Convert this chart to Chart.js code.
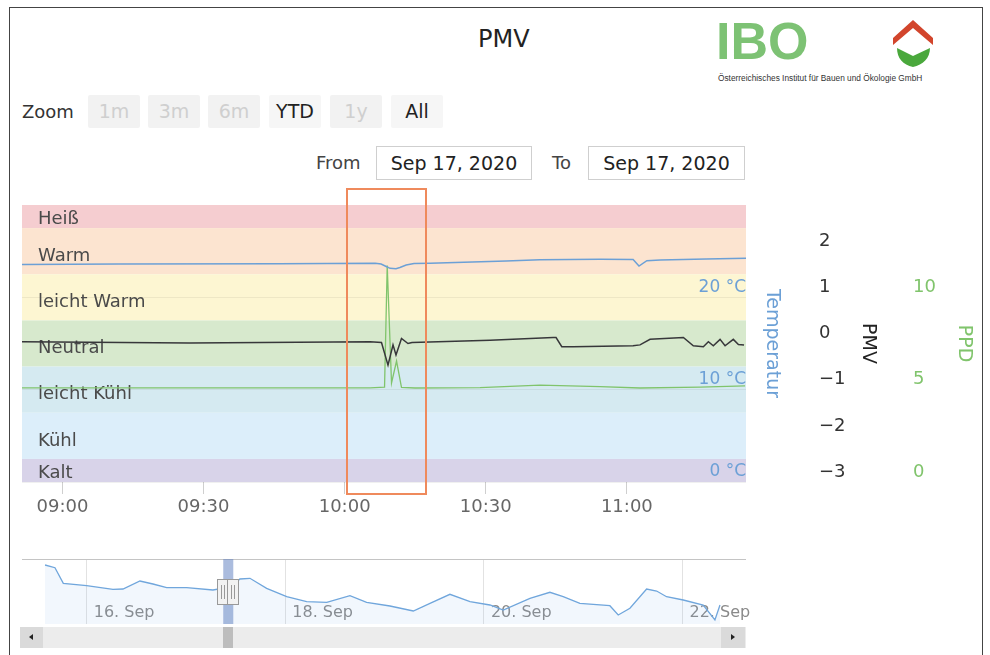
<!DOCTYPE html>
<html>
<head>
<meta charset="utf-8">
<script src="https://cdn.jsdelivr.net/npm/chart.js@4/dist/chart.umd.min.js"></script>
<style>
html,body{margin:0;padding:0;background:#fff;}
body{font-family:"DejaVu Sans",sans-serif;color:#333;}
#page{position:relative;width:990px;height:655px;overflow:hidden;}
#frame{position:absolute;left:9px;top:7px;width:972px;height:700px;border:1px solid #444;}
.abs{position:absolute;white-space:nowrap;}
.btn{position:absolute;top:95px;width:52px;height:33px;line-height:33px;text-align:center;background:#f2f2f2;font-size:19px;color:#cfcfcf;border-radius:2px;}
.btn.on{color:#222;background:#f6f6f6;}
.inp{position:absolute;top:146px;height:32px;line-height:32px;border:1px solid #cfcfcf;text-align:center;font-size:19px;color:#222;}
canvas{position:absolute;left:0;}
#mark{position:absolute;left:346px;top:188px;width:81px;height:307px;border:2px solid #ef8a5c;box-sizing:border-box;z-index:5;}
.sb{position:absolute;top:627px;height:21px;}
</style>
</head>
<body>
<div id="page">
  <div id="frame"></div>
  <div class="abs" style="left:478px;top:24px;font-size:24px;line-height:30px;color:#222">PMV</div>

  <div class="abs" style="left:716px;top:15px;font:bold 52px 'Liberation Sans',sans-serif;line-height:52px;color:#7dc274">IBO</div>
  <div class="abs" style="left:718px;top:73px;font:8.3px 'Liberation Sans',sans-serif;color:#333">Österreichisches Institut für Bauen und Ökologie GmbH</div>
  <svg class="abs" style="left:890px;top:18px" width="50" height="54">
    <path d="M23 2 L43 20 L43 27 L23 10 L3 27 L3 20 Z" fill="#d2452c"/>
    <path d="M7 30 L23 38 L40 30 C40 40 33 47 23 49 C13 47 7 40 7 30 Z" fill="#4aa83c"/>
  </svg>

  <div class="abs" style="left:22px;top:95px;line-height:33px;font-size:18px;color:#333">Zoom</div>
  <div class="btn" style="left:88px">1m</div>
  <div class="btn" style="left:148px">3m</div>
  <div class="btn" style="left:208px">6m</div>
  <div class="btn on" style="left:269px">YTD</div>
  <div class="btn" style="left:330px">1y</div>
  <div class="btn on" style="left:391px">All</div>

  <div class="abs" style="left:316px;top:146px;line-height:34px;font-size:18px;color:#444">From</div>
  <div class="inp" style="left:376px;width:154px">Sep 17, 2020</div>
  <div class="abs" style="left:552px;top:146px;line-height:34px;font-size:18px;color:#444">To</div>
  <div class="inp" style="left:588px;width:155px">Sep 17, 2020</div>

  <canvas id="main" width="990" height="340" style="top:190px"></canvas>
  <div id="mark"></div>

  <canvas id="nav" width="990" height="85" style="top:545px"></canvas>
  <div class="sb" style="left:20px;width:726px;background:#ececec"></div>
  <div class="sb" id="thumb" style="left:222px;width:11px;background:#bdbdbd"></div>
  <div class="sb" style="left:20px;width:23px;background:#dadada"><div style="position:absolute;left:9px;top:7px;border-style:solid;border-width:3.5px 4px 3.5px 0;border-color:transparent #222 transparent transparent"></div></div>
  <div class="sb" style="left:721px;width:24px;background:#dadada"><div style="position:absolute;left:10px;top:7px;border-style:solid;border-width:3.5px 0 3.5px 4px;border-color:transparent transparent transparent #222"></div></div>
</div>

<script>
// Messdaten 17.09.2020 (Uhrzeit hh:mm:ss)
var tempTimes=['08:51:24','09:12:00','09:46:00','10:06:30','10:07:45','10:08:50','10:09:40','10:10:55','10:11:45','10:13:05','10:14:45','10:18:10','10:34:20','10:41:30','10:54:20','11:01:20','11:02:35','11:04:15','11:07:05','11:16:50','11:25:20']
var tempValues=[23.56,23.61,23.64,23.69,23.61,23.34,23.14,23.10,23.23,23.50,23.66,23.70,23.94,24.07,24.12,24.10,23.39,23.97,24.04,24.15,24.23]

var pmvTimes=['08:51:24','09:27:00','10:05:24','10:07:50','10:09:13','10:10:17','10:10:55','10:12:05','10:13:28','10:14:20','10:30:55','10:44:19','10:44:57','10:46:10','10:48:34','11:01:19','11:02:48','11:04:56','11:12:01','11:14:08','11:16:16','11:17:20','11:18:23','11:19:49','11:20:53','11:22:38','11:23:43','11:24:55']
var pmvValues=[0.04,0.01,0.04,0.02,-0.47,-0.03,-0.25,0.11,0.00,0.02,0.07,0.13,0.13,-0.07,-0.07,-0.05,-0.03,0.09,0.13,-0.05,-0.07,0.04,-0.05,0.09,-0.05,0.09,-0.02,-0.03]

var ppdTimes=['08:51:24','10:05:24','10:08:29','10:09:03','10:09:58','10:11:02','10:12:05','10:14:58','10:28:47','10:41:32','10:54:18','11:02:48','11:15:34','11:25:08']
var ppdValues=[5.1,5.1,5.14,11.72,5.36,6.55,5.12,5.09,5.11,5.25,5.17,5.09,5.14,5.2]

var xRange=['08:51:24','11:25:20']
var xTicks=['09:00','09:30','10:00','10:30','11:00']
var tempTicks=[0,10,20]
var pmvTicks=[-3,-2,-1,0,1,2]
var ppdTicks=[0,5,10]

// Behaglichkeitsbereiche (PMV)
var bandNames=['Heiß','Warm','leicht Warm','Neutral','leicht Kühl','Kühl','Kalt']
var bandEdges=[3,2.5,1.5,0.5,-0.5,-1.5,-2.5,-3]
var bandColors=['rgb(245,205,208)','rgb(252,228,208)','rgb(253,246,210)','rgb(215,233,205)','rgb(213,234,241)','rgb(220,238,250)','rgb(216,211,233)']

// Navigator: Tage ab 15. Sep 00:00, Temperatur
var navDays=[0.58,0.68,0.764,0.999,1.264,1.365,1.536,1.667,1.805,2.007,2.271,2.45,2.543,2.644,2.812,3.014,3.215,3.417,3.651,3.819,4.054,4.289,4.457,4.658,4.86,5.061,5.195,5.464,5.665,5.799,5.967,6.269,6.353,6.471,6.639,6.74,6.84,7.008,7.209,7.327,7.378]
var navTemps=[26.1,25.83,24.27,24.03,23.67,23.7,24.5,24.2,23.83,23.83,23.6,23.9,24.7,24.77,23.77,22.93,22.43,22.37,23.03,22.37,22.0,21.5,22.27,23.17,22.43,22.1,21.6,22.77,23.37,22.93,22.27,22.03,21.1,21.77,23.7,23.5,22.93,22.6,22.1,20.6,22.1]
var navRange=[0.348,7.64]
var navTicks=[1,3,5,7]
var navTickLabels=['16. Sep','18. Sep','20. Sep','22. Sep']
var selDays=[2.375,2.476]   // 17.09. 09:00 - 11:25

Chart.defaults.font.family="'DejaVu Sans', sans-serif"

function toMin(s){ var p=s.split(':').map(Number); return p[0]*60+p[1]+(p[2]||0)/60 }
function fmt(v){ var h=Math.floor(v/60), m=Math.round(v-h*60); return (h<10?'0':'')+h+':'+(m<10?'0':'')+m }
function pts(times,vals){ return times.map(function(t,i){ return {x:toMin(t),y:vals[i]} }) }
function fixTicks(arr){ return function(s){ s.ticks=arr.map(function(v){ return {value:v} }) } }

const bandPlugin={
  id:'bands',
  beforeDraw(chart){
    const {ctx,chartArea:a}=chart, y=chart.scales.yPmv
    ctx.save()
    for(var i=0;i<bandNames.length;i++){
      var y1=y.getPixelForValue(bandEdges[i]), y2=y.getPixelForValue(bandEdges[i+1])
      ctx.fillStyle=bandColors[i]
      ctx.fillRect(a.left,y1,a.right-a.left,y2-y1)
    }
    ctx.restore()
  },
  beforeDatasetsDraw(chart){
    const {ctx,chartArea:a}=chart, y=chart.scales.yPmv
    ctx.save()
    ctx.font="18px 'DejaVu Sans'"
    ctx.fillStyle='#4a4a4a'
    ctx.textBaseline='middle'
    for(var i=0;i<bandNames.length;i++){
      var y1=y.getPixelForValue(bandEdges[i]), y2=y.getPixelForValue(bandEdges[i+1])
      var off=(i==0||i==bandNames.length-1)?3:5
      ctx.fillText(bandNames[i],a.left+16,(y1+y2)/2+off)
    }
    ctx.restore()
  }
}

var blue='rgb(108,160,214)', green='rgb(128,196,108)'

var main=new Chart(document.getElementById('main'),{
  type:'line',
  data:{datasets:[
    {label:'Temperatur',data:pts(tempTimes,tempValues),yAxisID:'yTemp',borderColor:blue,borderWidth:1.5},
    {label:'PMV',data:pts(pmvTimes,pmvValues),yAxisID:'yPmv',borderColor:'rgb(55,55,58)',borderWidth:1.5},
    {label:'PPD',data:pts(ppdTimes,ppdValues),yAxisID:'yPpd',borderColor:green,borderWidth:1.3}
  ]},
  options:{
    responsive:false,animation:false,devicePixelRatio:1,
    elements:{point:{radius:0},line:{tension:0}},
    layout:{padding:{left:22,right:15,top:15,bottom:8}},
    plugins:{legend:{display:false},tooltip:{enabled:false}},
    scales:{
      x:{type:'linear',min:toMin(xRange[0]),max:toMin(xRange[1]),
        afterBuildTicks:fixTicks(xTicks.map(toMin)),
        afterFit:function(s){ s.height=40 },
        ticks:{callback:fmt,color:'#666',font:{size:18},padding:3,maxRotation:0,autoSkip:false},
        grid:{drawOnChartArea:false,tickLength:12,color:'#cfcfcf'},
        border:{display:false}},
      yTemp:{position:'right',min:0,max:30,
        afterBuildTicks:fixTicks(tempTicks),
        afterFit:function(s){ s.width=37 },
        ticks:{mirror:true,padding:0,labelOffset:-10,color:blue,font:{size:17},callback:function(v){ return v+' °C' }},
        grid:{color:'rgba(0,0,0,0.06)',drawTicks:false},
        border:{display:false},
        title:{display:true,text:'Temperatur',color:blue,font:{size:19},padding:0}},
      yPmv:{position:'right',min:-3,max:3,
        afterBuildTicks:fixTicks(pmvTicks),
        afterFit:function(s){ s.width=96 },
        ticks:{padding:2,labelOffset:-10,color:'#333',font:{size:18},callback:function(v){ return v<0?'\u2212'+Math.abs(v):String(v) }},
        grid:{display:false,drawTicks:true,tickLength:34},
        border:{display:false},
        title:{display:true,text:'PMV',color:'#222',font:{size:19},padding:0}},
      yPpd:{position:'right',min:0,max:15,
        afterBuildTicks:fixTicks(ppdTicks),
        afterFit:function(s){ s.width=96 },
        ticks:{padding:2,labelOffset:-10,color:green,font:{size:18}},
        grid:{display:false,drawTicks:true,tickLength:32},
        border:{display:false},
        title:{display:true,text:'PPD',color:green,font:{size:19},padding:0}}
    }
  },
  plugins:[bandPlugin]
})

const navPlugin={
  id:'navOverlay',
  afterDatasetsDraw(chart){
    const {ctx,chartArea:a}=chart, x=chart.scales.x
    var x1=x.getPixelForValue(selDays[0]), x2=x.getPixelForValue(selDays[1])
    ctx.save()
    ctx.strokeStyle='#c4c4c4'; ctx.lineWidth=1
    ctx.beginPath(); ctx.moveTo(a.left,a.top+0.5); ctx.lineTo(a.right,a.top+0.5); ctx.stroke()
    ctx.fillStyle='rgba(102,133,194,0.55)'
    ctx.fillRect(x1,a.top,x2-x1,a.bottom-a.top)
    var cy=Math.round((a.top+a.bottom)/2)
    ;[x1,x2].forEach(function(px){
      px=Math.round(px)
      ctx.fillStyle='#f2f2f2'; ctx.strokeStyle='#999'
      ctx.fillRect(px-6,cy-13,12,26)
      ctx.strokeRect(px-5.5,cy-12.5,11,25)
      ctx.beginPath()
      ctx.moveTo(px-1.5,cy-7); ctx.lineTo(px-1.5,cy+7)
      ctx.moveTo(px+1.5,cy-7); ctx.lineTo(px+1.5,cy+7)
      ctx.stroke()
    })
    ctx.restore()
  }
}

var nav=new Chart(document.getElementById('nav'),{
  type:'line',
  data:{datasets:[{data:navDays.map(function(d,i){ return {x:d,y:navTemps[i]} }),
    borderColor:'rgb(112,166,220)',borderWidth:1.3,fill:'start',backgroundColor:'rgba(124,181,236,0.1)'}]},
  options:{
    responsive:false,animation:false,devicePixelRatio:1,
    elements:{point:{radius:0},line:{tension:0}},
    layout:{padding:{left:22,right:244,top:14,bottom:6}},
    plugins:{legend:{display:false},tooltip:{enabled:false}},
    scales:{
      x:{type:'linear',min:navRange[0],max:navRange[1],
        afterBuildTicks:fixTicks(navTicks),
        afterFit:function(s){ s.height=0 },
        ticks:{mirror:true,align:'start',labelOffset:7,padding:2,color:'#8a8a8a',font:{size:16},maxRotation:0,autoSkip:false,
          callback:function(v){ return navTickLabels[navTicks.indexOf(v)] }},
        grid:{drawTicks:false,color:'#e2e2e2'},
        border:{display:false}},
      y:{display:false,min:20.2,max:26.7}
    }
  },
  plugins:[navPlugin]
})

// Scrollbar-Schieber an Auswahl ausrichten
var sx=nav.scales.x
var thumb=document.getElementById('thumb')
thumb.style.left=sx.getPixelForValue(selDays[0])+'px'
thumb.style.width=(sx.getPixelForValue(selDays[1])-sx.getPixelForValue(selDays[0]))+'px'
</script>
</body>
</html>
